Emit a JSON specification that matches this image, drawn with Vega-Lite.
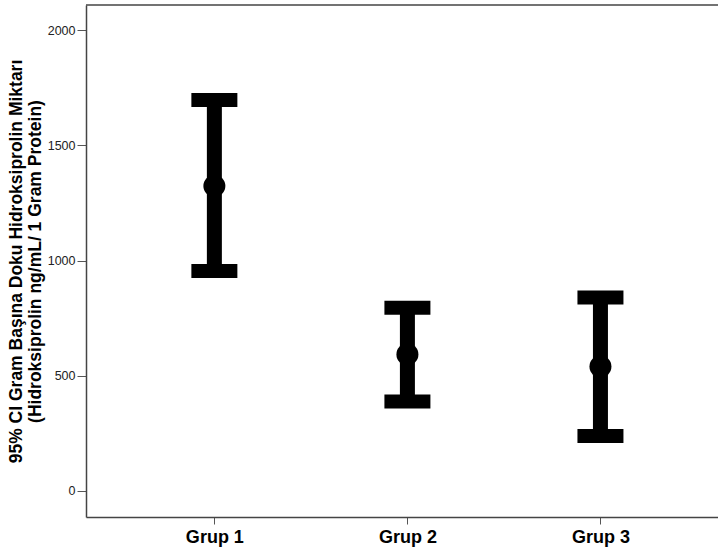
{
  "$schema": "https://vega.github.io/schema/vega-lite/v6.json",
  "autosize": "none",
  "padding": {"left": 86, "top": 5, "right": 0, "bottom": 38},
  "width": 632,
  "height": 512,
  "background": "white",
  "config": {
    "view": {"stroke": null},
    "font": "Liberation Sans"
  },
  "data": {
    "values": [
      {"grup": "Grup 1", "mean": 1324, "low": 955, "high": 1697},
      {"grup": "Grup 2", "mean": 593, "low": 389, "high": 796},
      {"grup": "Grup 3", "mean": 540, "low": 239, "high": 840}
    ]
  },
  "encoding": {
    "x": {
      "field": "grup", "type": "nominal",
      "scale": {"type": "point", "padding": 0.637, "align": 0.522},
      "axis": {
        "title": null, "labelAngle": 0, "labelFont": "Liberation Sans", "labelFontSize": 18,
        "labelFontWeight": "bold", "labelColor": "#000", "tickColor": "#555", "tickSize": 7,
        "domainColor": "#444", "domainWidth": 1.5, "labelPadding": 4
      }
    }
  },
  "layer": [
    {
      "mark": {"type": "rule", "strokeWidth": 15, "color": "#000"},
      "encoding": {
        "y": {
          "field": "low", "type": "quantitative",
          "scale": {"domain": [-113, 2110], "nice": false, "zero": false},
          "axis": {
            "values": [0, 500, 1000, 1500, 2000], "format": "d",
            "title": ["95% CI Gram Başına Doku Hidroksiprolin Miktarı", "(Hidroksiprolin ng/mL/ 1 Gram Protein)"],
            "titleFont": "Liberation Sans", "titleFontSize": 17.5, "titleFontWeight": "bold", "titleColor": "#000",
            "titleLineHeight": 19, "titlePadding": 3,
            "labelFont": "Liberation Sans", "labelFontSize": 12.5, "labelColor": "#222",
            "tickColor": "#555", "tickSize": 9, "labelPadding": 2,
            "domainColor": "#444", "domainWidth": 1.5, "grid": false
          }
        },
        "y2": {"field": "high"}
      }
    },
    {
      "mark": {"type": "tick", "thickness": 14, "size": 46, "color": "#000", "opacity": 1},
      "encoding": {"y": {"field": "high", "type": "quantitative"}}
    },
    {
      "mark": {"type": "tick", "thickness": 14, "size": 46, "color": "#000", "opacity": 1},
      "encoding": {"y": {"field": "low", "type": "quantitative"}}
    },
    {
      "mark": {"type": "point", "filled": true, "size": 484, "color": "#000", "opacity": 1},
      "encoding": {"y": {"field": "mean", "type": "quantitative"}}
    },
    {
      "data": {"values": [{"top": 2110}]},
      "mark": {"type": "rule", "color": "#444", "strokeWidth": 1.5},
      "encoding": {"y": {"field": "top", "type": "quantitative"}, "x": null}
    }
  ]
}
